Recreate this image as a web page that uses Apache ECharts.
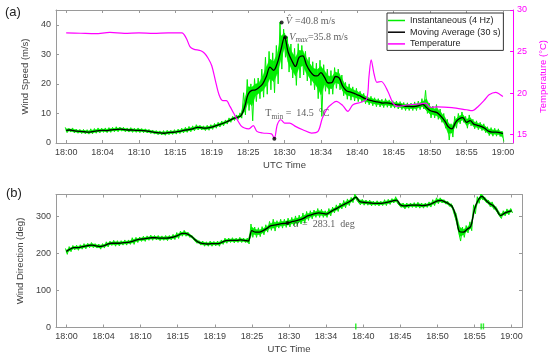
<!DOCTYPE html>
<html>
<head>
<meta charset="utf-8">
<script src="https://cdn.jsdelivr.net/npm/echarts@6/dist/echarts.min.js"></script>
<style>
  html, body { margin: 0; padding: 0; background: #fff; }
  #chart { width: 556px; height: 360px; }
</style>
</head>
<body>
<div id="chart"></div>
<script>
// x positions are minutes after 18:00 UTC
const tickMinutes = [0, 5, 10, 15, 20, 25, 30, 35, 40, 45, 50, 55, 60];
const tickLabels = ['18:00', '18:04', '18:10', '18:15', '18:19', '18:25', '18:30',
  '18:34', '18:40', '18:45', '18:50', '18:55', '19:00'];
const sampleStep = 0.5; // minutes between the stored samples below

// wind speed, 30 s moving average (m/s)
const speedAvg = [
  4.3, 4.4, 4.2, 4.0, 3.9, 3.8, 3.7, 3.8, 4.0, 4.2,
  4.3, 4.2, 4.4, 4.5, 4.6, 4.7, 4.5, 4.4, 4.4, 4.3,
  4.3, 4.2, 4.1, 3.9, 3.7, 3.5, 3.4, 3.3, 3.5, 3.6,
  3.7, 3.9, 4.2, 4.4, 4.6, 4.9, 5.3, 5.2, 5.0, 5.1,
  5.4, 5.8, 6.2, 6.6, 7.1, 7.7, 8.3, 8.7, 9.2, 12.0,
  16.5, 17.8, 18.0, 18.8, 20.0, 22.5, 25.7, 24.6, 27.0, 31.5,
  35.8, 30.7, 27.9, 25.9, 29.0, 29.5, 26.5, 24.3, 22.9, 22.7,
  23.8, 22.2, 20.3, 20.4, 22.5, 22.0, 19.2, 17.7, 17.3, 16.9,
  16.3, 15.8, 15.1, 14.6, 14.3, 14.0, 13.8, 13.5, 13.6, 13.4,
  13.1, 12.9, 12.8, 12.5, 12.4, 12.3, 12.4, 12.7, 13.1, 12.0,
  11.0, 10.6, 10.2, 9.0, 7.5, 5.5, 4.8, 7.0, 8.2, 8.6,
  7.0, 7.6, 6.4, 6.0, 5.6, 5.0, 4.0, 3.7, 3.7, 3.5,
  3.2
];
// 4 Hz instantaneous speed, upper and lower swing in each sample (m/s)
const speedHigh = [
  5.3, 5.0, 5.1, 4.7, 4.6, 4.6, 4.5, 4.8, 4.9, 5.1,
  5.0, 5.1, 5.2, 5.3, 5.5, 5.4, 5.3, 5.1, 5.2, 5.0,
  5.1, 4.9, 4.8, 4.6, 4.4, 4.2, 4.1, 4.2, 4.3, 4.3,
  4.5, 4.7, 5.0, 5.3, 5.6, 5.8, 6.2, 6.0, 5.8, 6.0,
  6.2, 6.6, 7.0, 7.4, 7.8, 8.5, 9.0, 9.5, 10.2, 17.0,
  21.5, 20.0, 21.8, 22.0, 25.0, 29.0, 31.0, 30.5, 33.0, 40.8,
  38.5, 36.0, 33.5, 32.0, 33.6, 33.0, 31.0, 29.0, 27.5, 27.0,
  28.0, 26.5, 25.0, 24.5, 25.5, 25.0, 23.0, 20.5, 20.0, 19.0,
  18.5, 17.5, 16.8, 16.0, 15.8, 15.3, 15.0, 14.8, 15.0, 14.6,
  14.3, 14.2, 14.0, 13.7, 13.6, 13.5, 13.9, 14.2, 15.0, 17.8,
  13.5, 12.5, 13.0, 11.5, 10.0, 8.0, 6.5, 9.0, 10.0, 10.5,
  9.0, 9.5, 8.0, 7.5, 7.0, 6.5, 5.5, 5.2, 5.0, 4.8,
  4.0
];
const speedLow = [
  3.5, 3.7, 3.4, 3.3, 3.2, 3.1, 3.0, 3.1, 3.3, 3.4,
  3.6, 3.5, 3.6, 3.8, 3.8, 4.0, 3.8, 3.7, 3.6, 3.6,
  3.5, 3.5, 3.4, 3.2, 3.0, 2.8, 2.7, 2.6, 2.8, 2.9,
  3.0, 3.2, 3.4, 3.6, 3.8, 4.1, 4.4, 4.4, 4.2, 4.3,
  4.6, 5.0, 5.4, 5.8, 6.4, 7.0, 7.6, 8.0, 8.4, 9.5,
  11.0, 7.5, 14.0, 15.0, 15.5, 16.5, 18.0, 17.0, 20.0, 25.0,
  29.0, 24.0, 22.0, 19.5, 22.0, 23.0, 21.0, 19.5, 18.0, 15.0,
  9.0, 17.5, 16.5, 16.5, 18.5, 18.0, 16.0, 14.8, 14.5, 14.2,
  14.0, 13.8, 13.3, 12.9, 12.6, 12.3, 12.2, 12.0, 12.1, 11.9,
  11.8, 11.5, 11.3, 11.0, 11.0, 11.0, 11.0, 11.3, 11.5, 10.0,
  8.5, 8.5, 8.0, 7.0, 5.0, 1.0, 2.0, 5.0, 6.5, 7.0,
  5.0, 5.8, 4.8, 4.5, 4.2, 3.5, 2.5, 2.3, 2.3, 2.2,
  0.5
];

// temperature (deg C)
const tempMinutes = [0, 2, 4, 6, 8, 10, 12, 14, 15.9, 16.5, 17, 17.5, 18.5, 19, 19.5,
  20, 20.5, 21, 21.5, 22, 22.5, 23, 23.5, 24, 24.5, 25.1, 25.7, 26.2, 27, 28.2,
  28.6, 29, 29.5, 30, 30.7, 31.5, 32.5, 33.7, 34.6, 35.2, 35.9, 36.5, 37.1, 38,
  38.7, 39.4, 40.5, 41.3, 41.6, 41.9, 42.3, 42.7, 43.3, 44.2, 44.9, 45.5, 47,
  48.5, 49.4, 50, 51, 53, 55, 55.8, 56.6, 57.5, 58.1, 59, 59.5, 60];
const tempValues = [27.25, 27.2, 27.15, 27.3, 27.2, 27.25, 27.2, 27.25, 27.25, 26.6,
  25.6, 25.3, 25.1, 24.8, 24.2, 23.3, 21.5, 19.8, 19.1, 19.1, 18.4, 17.6, 16.8,
  16.1, 15.8, 15.7, 16.1, 15.4, 15.2, 15.1, 14.55, 16.2, 16.8, 16.4, 16.4, 16.0,
  15.6, 15.2, 15.4, 17.0, 18.2, 18.7, 19.0, 18.5, 17.8, 18.6, 18.9, 19.3, 22.0,
  24.0, 22.3, 21.3, 21.4, 20.2, 18.8, 18.4, 18.6, 18.7, 18.8, 18.3, 18.35, 18.25,
  18.0, 17.9, 18.4, 19.2, 19.8, 20.1, 19.9, 19.6];

// wind direction, moving average and half-width of the 4 Hz scatter (deg)
const dirAvg = [
  206, 212, 216, 216, 218, 220, 222, 223, 221, 219,
  221, 225, 228, 228, 228, 229, 230, 231, 234, 237,
  239, 240, 242, 243, 243, 242, 242, 242, 243, 245,
  249, 254, 255, 251, 244, 235, 229, 227, 226, 227,
  227, 227, 231, 235, 236, 236, 236, 237, 236, 234,
  262, 258, 258, 262, 268, 275, 277, 279, 281, 282,
  284, 287, 289, 292, 296, 302, 305, 308, 310, 309,
  307, 312, 318, 323, 329, 334, 339, 345, 353, 341,
  339, 338, 337, 336, 336, 336, 338, 340, 343, 345,
  332, 329, 330, 331, 331, 331, 330, 331, 333, 338,
  343, 344, 340, 335, 327, 300, 259, 258, 266, 274,
  320, 345, 355, 345, 336, 330, 318, 303, 309, 313,
  316
];
const dirSpread = [
  8, 7, 6, 7, 6, 7, 6, 7, 6, 7,
  6, 7, 6, 8, 7, 6, 7, 6, 9, 7,
  6, 7, 6, 7, 6, 7, 6, 7, 6, 7,
  8, 7, 8, 7, 6, 7, 6, 7, 6, 7,
  6, 7, 6, 7, 6, 7, 6, 7, 6, 8,
  18, 14, 12, 11, 10, 12, 16, 10, 12, 11,
  12, 11, 13, 12, 14, 12, 11, 10, 12, 11,
  9, 10, 8, 9, 8, 10, 9, 7, 8, 9,
  8, 7, 8, 6, 7, 6, 8, 7, 6, 9,
  7, 8, 7, 6, 7, 8, 7, 6, 7, 8,
  8, 7, 6, 7, 8, 18, 25, 14, 10, 12,
  12, 9, 10, 8, 9, 10, 9, 8, 7, 8,
  6
];
// direction samples that wrapped past 360 and show near 0
const dirWrapMinutes = [39.0, 55.9, 56.2];
const dirWrapValues = [3, 3, 3];

// annotated points
const gustPoint = [29.6, 40.8];
const maxPoint = [30.1, 35.8];
const tminPoint = [28.6, 14.5];
const alphaPoint = [29.8, 283.1];

const font = 'Liberation Sans';
const serif = 'Liberation Serif';
const frame = '#9a9a9a';
const ink = '#404040';
const magenta = '#ff00ff';
const green = '#00ee00';

// 4 Hz trace: alternate between the upper and lower swing of each sample
function swing(high, low) {
  const pts = [];
  high.forEach((h, i) => {
    const t = i * sampleStep;
    pts.push([t - sampleStep / 4, h]);
    pts.push([t + sampleStep / 4, low[i]]);
  });
  return pts;
}
const withTime = arr => arr.map((v, i) => [i * sampleStep, v]);

const dirHigh = dirAvg.map((v, i) => v + dirSpread[i]);
const dirLow = dirAvg.map((v, i) => v - dirSpread[i]);

// dense core of the 4 Hz scatter, half way between the average and each swing
function core(x, y, avg, low, high) {
  const lo = avg.map((a, i) => (a + low[i]) / 2);
  const hi = avg.map((a, i) => (a + high[i]) / 2);
  return {
    type: 'custom', xAxisIndex: x, yAxisIndex: y, silent: true, clip: true,
    data: lo.map((v, i) => [i * sampleStep, v, hi[i]]),
    renderItem: (params, api) => {
      const i = params.dataIndex;
      if (i >= lo.length - 1) return null;
      const t0 = i * sampleStep, t1 = (i + 1) * sampleStep;
      const pts = [api.coord([t0, lo[i]]), api.coord([t1, lo[i + 1]]),
        api.coord([t1, hi[i + 1]]), api.coord([t0, hi[i]])];
      return { type: 'polygon', shape: { points: pts }, style: { fill: green, stroke: green, lineWidth: 0.5 } };
    }
  };
}

const timeAxis = (grid, pos, labels) => ({
  type: 'value', gridIndex: grid, position: pos, min: -1.4, max: 61.4,
  axisLine: { show: true, onZero: false, lineStyle: { color: frame, width: 1 } },
  axisTick: { show: true, inside: true, length: 3, customValues: tickMinutes, lineStyle: { color: frame } },
  axisLabel: {
    show: labels, customValues: tickMinutes, margin: 5, color: ink, fontSize: 9, fontFamily: font,
    formatter: v => tickLabels[tickMinutes.indexOf(v)]
  },
  splitLine: { show: false },
  name: labels ? 'UTC Time' : '', nameLocation: 'middle', nameGap: 17,
  nameTextStyle: { color: ink, fontSize: 9.5, fontFamily: font }
});

const valueAxis = (grid, pos, min, max, ticks, color, showLabels) => ({
  type: 'value', gridIndex: grid, position: pos, min: min, max: max,
  axisLine: { show: true, onZero: false, lineStyle: { color: color } },
  axisTick: { show: true, inside: true, length: 3, customValues: ticks, lineStyle: { color: color } },
  axisLabel: { show: showLabels, customValues: ticks, margin: 5, fontSize: 9, fontFamily: font },
  splitLine: { show: false }
});

const richText = {
  i: { fontFamily: serif, fontStyle: 'italic', fontSize: 10, color: '#333', lineHeight: 12, verticalAlign: 'top' },
  r: { fontFamily: serif, fontSize: 10, color: '#333', lineHeight: 12, verticalAlign: 'top' },
  t: { fontFamily: serif, fontSize: 10, color: '#333', lineHeight: 12, verticalAlign: 'top' },
  si: { fontFamily: serif, fontStyle: 'italic', fontSize: 7.5, color: '#333', lineHeight: 9, padding: [5, 0, 0, 0], verticalAlign: 'bottom' },
  sr: { fontFamily: serif, fontSize: 7.5, color: '#333', lineHeight: 9, padding: [8, 0, 0, 0], verticalAlign: 'bottom' }
};
const label = (fmt, offset) => ({
  show: true, position: 'right', distance: 2, offset: offset, formatter: fmt, rich: richText
});
const dot = (x, y, data, lbl) => ({
  type: 'scatter', xAxisIndex: x, yAxisIndex: y, data: [data], symbol: 'circle', symbolSize: 4,
  itemStyle: { color: '#000' }, z: 10, silent: true, label: lbl
});

const speedAxis = valueAxis(0, 'left', 0, 45, [0, 10, 20, 30, 40], frame, true);
Object.assign(speedAxis, { name: 'Wind Speed (m/s)', nameLocation: 'middle', nameGap: 17,
  nameTextStyle: { color: ink, fontSize: 9.5, fontFamily: font } });
speedAxis.axisLabel.color = ink;

const tempAxis = valueAxis(0, 'right', 14, 30, [15, 20, 25, 30], magenta, true);
Object.assign(tempAxis, { name: 'Temperature (\u00b0C)', nameLocation: 'middle', nameGap: 18, nameRotate: 90,
  nameTextStyle: { color: magenta, fontSize: 9.5, fontFamily: font } });
tempAxis.axisLabel.color = magenta;
tempAxis.axisLabel.margin = 4;

const dirAxis = valueAxis(1, 'left', 0, 360, [0, 100, 200, 300], frame, true);
Object.assign(dirAxis, { name: 'Wind Direction (deg)', nameLocation: 'middle', nameGap: 22,
  nameTextStyle: { color: ink, fontSize: 9.5, fontFamily: font } });
dirAxis.axisLabel.color = ink;

const lineIcon = 'path://M0,0H34V3H0Z';

const option = {
  animation: false,
  backgroundColor: '#fff',
  grid: [
    { left: 56, right: 34, top: 10, height: 133 },
    { left: 56, right: 34, top: 194.5, height: 133 }
  ],
  xAxis: [
    timeAxis(0, 'bottom', true),
    timeAxis(0, 'top', false),
    timeAxis(1, 'bottom', true),
    timeAxis(1, 'top', false)
  ],
  yAxis: [
    speedAxis,
    tempAxis,
    dirAxis,
    valueAxis(1, 'right', 0, 360, [0, 100, 200, 300], frame, false)
  ],
  legend: {
    data: [
      { name: 'Instantaneous (4 Hz)', icon: lineIcon },
      { name: 'Moving Average (30 s)', icon: lineIcon },
      { name: 'Temperature', icon: lineIcon }
    ],
    orient: 'vertical', left: 387, top: 13,
    itemWidth: 17, itemHeight: 9, itemGap: 2.7,
    padding: [3, 3, 2, 1],
    backgroundColor: '#fff', borderColor: '#333', borderWidth: 1,
    textStyle: { color: '#222', fontSize: 9, fontFamily: font }
  },
  graphic: [
    { type: 'text', left: 5, top: 6, style: { text: '(a)', fontSize: 13, fontFamily: font, fill: '#222' } },
    { type: 'text', left: 6, top: 187, style: { text: '(b)', fontSize: 13, fontFamily: font, fill: '#222' } }
  ],
  series: [
    core(0, 0, speedAvg, speedLow, speedHigh),
    {
      name: 'Instantaneous (4 Hz)', type: 'line', xAxisIndex: 0, yAxisIndex: 0,
      data: swing(speedHigh, speedLow), symbol: 'none', silent: true,
      lineStyle: { color: green, width: 1 }, itemStyle: { color: green }
    },
    {
      name: 'Moving Average (30 s)', type: 'line', xAxisIndex: 0, yAxisIndex: 0,
      data: withTime(speedAvg), symbol: 'none', smooth: 0.35, silent: true,
      lineStyle: { color: '#000', width: 1.3 }, itemStyle: { color: '#000' }
    },
    {
      name: 'Temperature', type: 'line', xAxisIndex: 0, yAxisIndex: 1,
      data: tempMinutes.map((m, i) => [m, tempValues[i]]), symbol: 'none', smooth: 0.3, silent: true,
      lineStyle: { color: magenta, width: 1.2 }, itemStyle: { color: magenta }
    },
    core(2, 2, dirAvg, dirLow, dirHigh),
    {
      type: 'line', xAxisIndex: 2, yAxisIndex: 2, data: swing(dirHigh, dirLow), symbol: 'none', silent: true,
      lineStyle: { color: green, width: 1 }
    },
    {
      type: 'line', xAxisIndex: 2, yAxisIndex: 2, data: withTime(dirAvg), symbol: 'none', smooth: 0.35, silent: true,
      lineStyle: { color: '#000', width: 1.3 }
    },
    {
      type: 'scatter', xAxisIndex: 2, yAxisIndex: 2, symbol: 'rect', symbolSize: [1.5, 6], silent: true,
      data: dirWrapMinutes.map((m, i) => [m, dirWrapValues[i]]), itemStyle: { color: green }
    },
    dot(0, 0, gustPoint, label('{i|V\u0302} {t|=40.8 m/s}', [0, 0])),
    dot(0, 0, maxPoint, label('{i|V}{si|max}{t|=35.8 m/s}', [0, 1])),
    dot(0, 1, tminPoint, label('{r|T}{sr|min}{t| =  14.5  \u00b0C}', [-13, -24])),
    dot(2, 2, alphaPoint, label('{i|\u03b1} {t|=  283.1  deg}', [2, 2]))
  ]
};

const chart = echarts.init(document.getElementById('chart'));
chart.setOption(option);
</script>
</body>
</html>
